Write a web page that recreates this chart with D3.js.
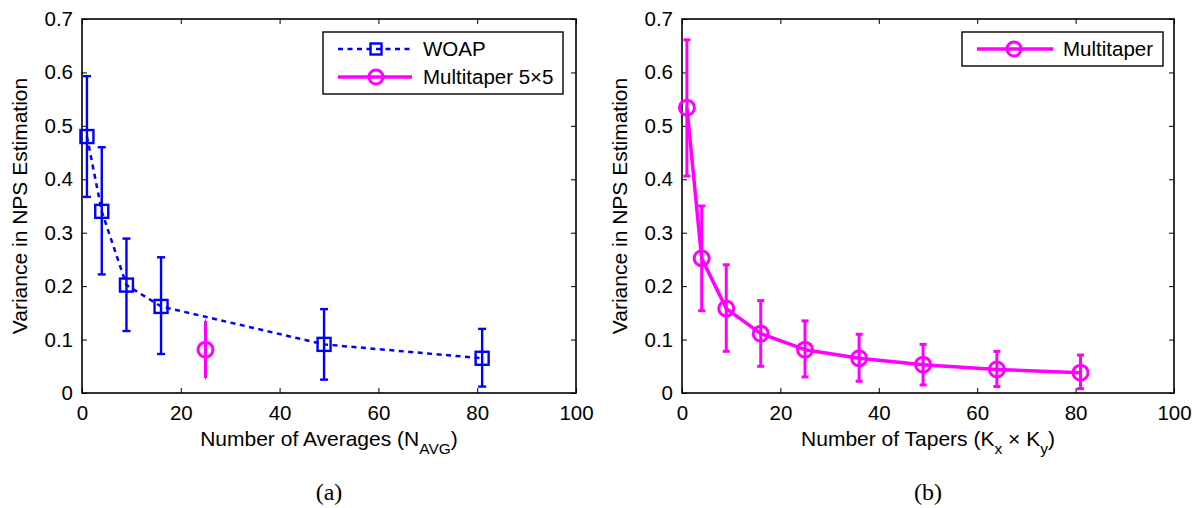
<!DOCTYPE html>
<html>
<head>
<meta charset="utf-8">
<script src="https://cdn.jsdelivr.net/npm/d3@7/dist/d3.min.js"></script>
<style>
  body { margin: 0; background: #fff; }
  svg { display: block; }
  text { font-family: "Liberation Sans", Arial, Helvetica, sans-serif; fill: #000; }
</style>
</head>
<body>
<script>
// panel (a): WOAP with error bars, plus the single multitaper 5x5 point
var woapX  = [1, 4, 9, 16, 49, 81];
var woapY  = [0.48, 0.34, 0.202, 0.162, 0.091, 0.065];
var woapLo = [0.367, 0.222, 0.116, 0.073, 0.025, 0.012];
var woapHi = [0.593, 0.46, 0.289, 0.254, 0.157, 0.12];

var mt5X  = [25];
var mt5Y  = [0.081];
var mt5Lo = [0.028];
var mt5Hi = [0.135];

// panel (b): multitaper vs number of tapers
var mtX  = [1, 4, 9, 16, 25, 36, 49, 64, 81];
var mtY  = [0.534, 0.252, 0.158, 0.111, 0.081, 0.065, 0.053, 0.044, 0.038];
var mtLo = [0.406, 0.154, 0.078, 0.05, 0.03, 0.022, 0.015, 0.012, 0.008];
var mtHi = [0.661, 0.35, 0.24, 0.173, 0.135, 0.11, 0.091, 0.078, 0.071];

var xTicks = [0, 20, 40, 60, 80, 100];
var yTicks = [0, 0.1, 0.2, 0.3, 0.4, 0.5, 0.6, 0.7];

var BLUE = "#0000ff", MAGENTA = "#ff00ff";

var svg = d3.select("body").append("svg")
	.attr("width", 1202)
	.attr("height", 508);

function zip(xs, ys, lo, hi) {
	return xs.map(function(x, i) { return {x: x, y: ys[i], lo: lo[i], hi: hi[i]}; });
}

function makePanel(left, right) {
	var top = 19, bottom = 393;
	var x = d3.scaleLinear().domain([0, 100]).range([left, right]);
	var y = d3.scaleLinear().domain([0, 0.7]).range([bottom, top]);
	var g = svg.append("g");

	var fmt = d3.format(".1~f");
	g.append("g").attr("transform", "translate(0," + bottom + ")")
		.call(d3.axisBottom(x).tickValues(xTicks).tickSizeInner(-5).tickSizeOuter(0).tickPadding(12));
	g.append("g").attr("transform", "translate(" + left + ",0)")
		.call(d3.axisLeft(y).tickValues(yTicks).tickFormat(fmt).tickSizeInner(-5).tickSizeOuter(0).tickPadding(9));
	g.append("g").attr("transform", "translate(0," + top + ")")
		.call(d3.axisTop(x).tickValues(xTicks).tickSizeInner(-5).tickSizeOuter(0).tickFormat(""));
	g.append("g").attr("transform", "translate(" + right + ",0)")
		.call(d3.axisRight(y).tickValues(yTicks).tickSizeInner(-5).tickSizeOuter(0).tickFormat(""));

	g.selectAll(".domain").remove();
	g.selectAll(".tick line").attr("stroke", "#000").attr("stroke-width", 1);
	g.selectAll(".tick text").attr("font-size", 20.5)
		.style("font-family", '"Liberation Sans", Arial, sans-serif');

	g.append("rect")
		.attr("x", left).attr("y", top)
		.attr("width", right - left).attr("height", bottom - top)
		.attr("fill", "none").attr("stroke", "#000").attr("stroke-width", 1.6);

	// y label
	g.append("text")
		.attr("transform", "translate(" + (left - 55) + "," + ((top + bottom) / 2) + ") rotate(-90)")
		.attr("text-anchor", "middle")
		.attr("font-size", 21)
		.text("Variance in NPS Estimation");

	return {g: g, x: x, y: y, left: left, right: right, top: top, bottom: bottom};
}

function errorBars(p, data, color, width, cap) {
	var eb = p.g.append("g").attr("stroke", color).attr("stroke-width", width).attr("fill", "none");
	eb.selectAll(".v").data(data).enter().append("line")
		.attr("x1", function(d) { return p.x(d.x); })
		.attr("x2", function(d) { return p.x(d.x); })
		.attr("y1", function(d) { return p.y(d.lo); })
		.attr("y2", function(d) { return p.y(d.hi); });
	eb.selectAll(".lo").data(data).enter().append("line")
		.attr("x1", function(d) { return p.x(d.x) - cap; })
		.attr("x2", function(d) { return p.x(d.x) + cap; })
		.attr("y1", function(d) { return p.y(d.lo); })
		.attr("y2", function(d) { return p.y(d.lo); });
	eb.selectAll(".hi").data(data).enter().append("line")
		.attr("x1", function(d) { return p.x(d.x) - cap; })
		.attr("x2", function(d) { return p.x(d.x) + cap; })
		.attr("y1", function(d) { return p.y(d.hi); })
		.attr("y2", function(d) { return p.y(d.hi); });
}

function squareMarkers(g, pts, size) {
	g.selectAll(null).data(pts).enter().append("rect")
		.attr("x", function(d) { return d[0] - size / 2; })
		.attr("y", function(d) { return d[1] - size / 2; })
		.attr("width", size).attr("height", size)
		.attr("fill", "none").attr("stroke", BLUE).attr("stroke-width", 2.4);
}

function circleMarkers(g, pts, r) {
	g.selectAll(null).data(pts).enter().append("circle")
		.attr("cx", function(d) { return d[0]; })
		.attr("cy", function(d) { return d[1]; })
		.attr("r", r)
		.attr("fill", "none").attr("stroke", MAGENTA).attr("stroke-width", 3);
}

function legendBox(g, x0, y0, w, h) {
	g.append("rect").attr("x", x0).attr("y", y0).attr("width", w).attr("height", h)
		.attr("fill", "#fff").attr("stroke", "#000").attr("stroke-width", 1.4);
}

// ---------- panel (a)
var pa = makePanel(82, 576);
var woap = zip(woapX, woapY, woapLo, woapHi);
var mt5 = zip(mt5X, mt5Y, mt5Lo, mt5Hi);

var line = d3.line().x(function(d) { return d[0]; }).y(function(d) { return d[1]; });

errorBars(pa, woap, BLUE, 2.4, 4);
pa.g.append("path")
	.attr("d", line(woap.map(function(d) { return [pa.x(d.x), pa.y(d.y)]; })))
	.attr("fill", "none").attr("stroke", BLUE).attr("stroke-width", 2.5).attr("stroke-dasharray", "5,4.5");
squareMarkers(pa.g, woap.map(function(d) { return [pa.x(d.x), pa.y(d.y)]; }), 13);

errorBars(pa, mt5, MAGENTA, 3, 0.5);
circleMarkers(pa.g, mt5.map(function(d) { return [pa.x(d.x), pa.y(d.y)]; }), 7.5);

// x label (a)
var xla = pa.g.append("text")
	.attr("x", (pa.left + pa.right) / 2).attr("y", 446)
	.attr("text-anchor", "middle").attr("font-size", 21);
xla.append("tspan").text("Number of Averages (N");
xla.append("tspan").attr("dy", 8).attr("font-size", 15.5).text("AVG");
xla.append("tspan").attr("dy", -8).text(")");

pa.g.append("text")
	.attr("x", (pa.left + pa.right) / 2).attr("y", 500)
	.attr("text-anchor", "middle").attr("font-size", 24)
	.style("font-family", '"Liberation Serif", "DejaVu Serif", serif')
	.text("(a)");

// legend (a)
var lga = pa.g.append("g");
legendBox(lga, 323, 32, 240, 62);
lga.append("line").attr("x1", 338).attr("x2", 412).attr("y1", 49).attr("y2", 49)
	.attr("stroke", BLUE).attr("stroke-width", 2.5).attr("stroke-dasharray", "5,4.5");
squareMarkers(lga, [[376, 49]], 11);
lga.append("line").attr("x1", 338).attr("x2", 412).attr("y1", 77).attr("y2", 77)
	.attr("stroke", MAGENTA).attr("stroke-width", 3.5);
circleMarkers(lga, [[376, 77]], 7);
lga.append("text").attr("x", 423).attr("y", 56).attr("font-size", 20.5).text("WOAP");
lga.append("text").attr("x", 423).attr("y", 84).attr("font-size", 20.5).text("Multitaper 5\u00d75");

// ---------- panel (b)
var pb = makePanel(682, 1174);
var mt = zip(mtX, mtY, mtLo, mtHi);
errorBars(pb, mt, MAGENTA, 3, 3.5);
pb.g.append("path")
	.attr("d", line(mt.map(function(d) { return [pb.x(d.x), pb.y(d.y)]; })))
	.attr("fill", "none").attr("stroke", MAGENTA).attr("stroke-width", 3.5).attr("stroke-linejoin", "round");
circleMarkers(pb.g, mt.map(function(d) { return [pb.x(d.x), pb.y(d.y)]; }), 7.5);

var xlb = pb.g.append("text")
	.attr("x", (pb.left + pb.right) / 2).attr("y", 446)
	.attr("text-anchor", "middle").attr("font-size", 21);
xlb.append("tspan").text("Number of Tapers (K");
xlb.append("tspan").attr("dy", 8).attr("font-size", 15.5).text("x");
xlb.append("tspan").attr("dy", -8).text(" \u00d7 K");
xlb.append("tspan").attr("dy", 8).attr("font-size", 15.5).text("y");
xlb.append("tspan").attr("dy", -8).text(")");

pb.g.append("text")
	.attr("x", (pb.left + pb.right) / 2).attr("y", 500)
	.attr("text-anchor", "middle").attr("font-size", 24)
	.style("font-family", '"Liberation Serif", "DejaVu Serif", serif')
	.text("(b)");

var lgb = pb.g.append("g");
legendBox(lgb, 962, 32, 201, 34);
lgb.append("line").attr("x1", 977).attr("x2", 1053).attr("y1", 49).attr("y2", 49)
	.attr("stroke", MAGENTA).attr("stroke-width", 3.5);
circleMarkers(lgb, [[1014, 49]], 7);
lgb.append("text").attr("x", 1063).attr("y", 56).attr("font-size", 20.5).text("Multitaper");
</script>
</body>
</html>
